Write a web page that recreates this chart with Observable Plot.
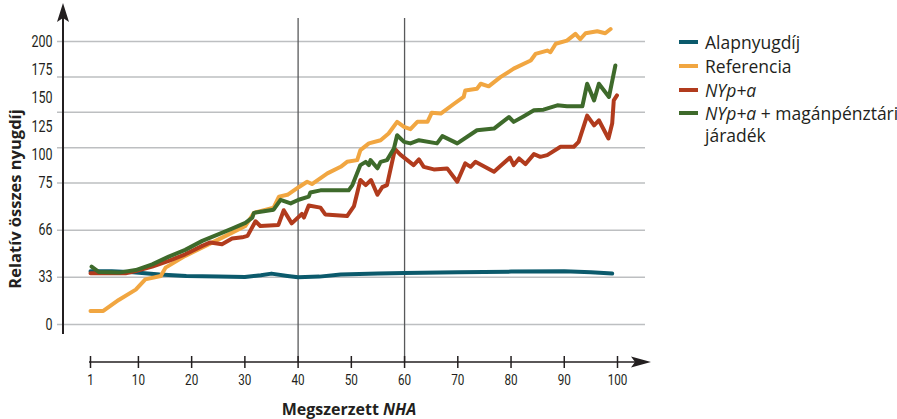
<!DOCTYPE html>
<html><head><meta charset="utf-8">
<script src="https://cdn.jsdelivr.net/npm/d3@7"></script>
<script src="https://cdn.jsdelivr.net/npm/@observablehq/plot@0.6"></script>
<style>
body{margin:0;background:#fff;}
#wrap{position:relative;width:897px;height:419px;overflow:hidden;}
#chart{position:absolute;left:0;top:0;}
#legend{position:absolute;left:679px;top:30px;font-family:"Open Sans","Noto Sans",sans-serif;font-size:17.5px;color:#231f20;}
.item{position:relative;height:24px;line-height:24px;padding-left:26px;white-space:nowrap;}
.item .sw{position:absolute;left:0;top:10px;width:19px;height:4px;}
.item.two{height:48px;line-height:22px;}
.item.two .sw{top:9px;}
</style>
</head><body>
<div id="wrap"><div id="chart"></div><div id="legend"></div></div>
<script>
// ---- data ----
const seriesNames = ["Alapnyugdíj", "Referencia", "NYp+a", "NYp+a + magánpénztári járadék"];
const seriesColors = ["#0b5a6c", "#f1a641", "#b13b1d", "#3e6a2b"];

const alapX = [1,5,9,14,19,25,30,33,35,38,40,44,48,55,60,70,80,90,95,99];
const alapY = [37.2,37.2,36.5,35,34,33.5,33.2,34.5,35.6,34,33,33.5,35,35.6,36,36.5,37,37.2,36.5,35.6];

const refX = [1,3.4,6.3,9.5,11.3,14.2,15.1,18.8,22.6,26.4,30.1,31.7,35.4,36.4,38,40.1,41.7,42.6,45.5,48,49.2,51.1,51.7,53.3,55.5,57,58.6,59.9,61.1,62.4,64.3,65.1,66.8,69.3,71.1,71.4,73.6,74.3,75.8,78,80.5,83.7,84.6,86.8,87.4,88.4,90.5,92.1,93,94,96.2,97.7,98.7];
const refY = [9.5,9.5,17.2,24.4,31.6,33.9,39.8,48,55,62,66.8,69.3,70.3,72.4,72.75,74.2,76.1,74.8,83.5,89.3,93.7,95.2,104,110,112.8,118.7,129,124.5,122.6,129,129,137,136.3,145,151,156.8,158.3,162.7,160.4,168.5,176,183.2,189,192,190.5,198,200.8,206.7,202,207.3,209,207.3,211];

const nypX = [1,7.6,9.5,12.6,15.7,18.8,22,23.5,25.7,27.6,29.5,30.5,32,32.9,36.3,37.3,38.8,40.7,41.1,42,44.2,45.1,49.2,50.5,51.7,52.7,53.7,54.9,55.8,56.7,58.2,59.2,61.7,62.7,63.6,65.5,68,69.9,71.4,72.4,73.3,76.8,78,79.8,80.5,81.5,82.7,84.3,85.5,86.8,89.3,91.8,92.7,94.3,95.6,96.5,98.3,99,99.3,99.9];
const nypY = [35.8,35.8,37.4,40.5,44.5,49.1,55,57.4,56.2,60.2,61,62,67.7,66.8,67,69.8,67.3,69.1,68.4,70.7,70.3,69,68.7,70.6,77.6,74.6,77.6,72.75,74.2,74.6,105,100,90.8,95.8,89.3,87,87.9,76.1,92.3,89.3,93.7,84.9,90,97.5,90.8,96.7,91.7,100.5,98.1,99.6,107,107,111.3,134.5,126,130.4,114.3,127.5,148,152.4];

const magX = [1.2,2.6,6.3,9.5,12.6,15.7,18.8,22,25.1,27.6,30.1,31.4,31.7,35.4,36.7,38.6,40.1,42,42.3,44.2,49.5,50.2,51.7,52.7,53.3,53.6,54.9,55.5,56.7,58,58.6,59.9,61.1,62.7,66.1,67.1,69.9,73.6,76.8,78,79.6,80.5,82.4,84.3,86.1,88.7,90.5,93.4,94.3,95.6,96.5,98.4,99.6];
const magY = [40.5,36.7,36.3,38.1,42.1,47.5,52.2,58.5,63.2,66.3,67.4,68.4,69.3,69.9,71.8,71.1,71.8,72.4,73.2,73.6,73.6,74.6,90.8,93.7,90.8,95.2,88,93.7,95.2,105.5,117.2,111.3,110,112.8,110,116.4,110,121.6,123.1,127.5,133.3,129,134,139.2,139.8,143.6,142.8,142.8,162.7,148,162.7,151,178.8];

const xTicks = [1,10,20,30,40,50,60,70,80,90,100];
const yTicks = [0,33,66,75,100,125,150,175,200];
const gridValues = [0,33,66,75,106.25,137.5,168.75,200];
const markerX = [40,60];
// the reference axis is broken: equal spacing for 0-33-66-75, then 75..200 over three slots
const yBreaks = [0,33,66,75,200];
const ySlots = [0,1,2,3,6];

// ---- build rows ----
const seriesXs = [alapX, refX, nypX, magX];
const seriesYs = [alapY, refY, nypY, magY];
const rows = [];
seriesNames.forEach((name, i) => {
  seriesXs[i].forEach((x, j) => rows.push({series: name, x, y: seriesYs[i][j]}));
});

const slot = d3.scaleLinear(yBreaks, ySlots);
const tickFont = 'Roboto,"Noto Sans",sans-serif';
const ink = "#231f20";

const plot = Plot.plot({
  width: 897, height: 419,
  marginLeft: 57, marginRight: 252, marginTop: 18, marginBottom: 57,
  x: {domain: [1, 100], range: [90, 617]},
  y: {transform: v => slot(v), domain: [0, 6], range: [324, 41]},
  color: {domain: seriesNames, range: seriesColors},
  style: {fontFamily: tickFont, color: ink, background: "transparent", overflow: "visible"},
  marks: [
    Plot.ruleY(gridValues, {stroke: "#bdbfc1", strokeWidth: 1.5}),
    Plot.ruleX(markerX, {stroke: "#58595b", strokeWidth: 1.3}),
    Plot.axisY(yTicks, {tickSize: 0, tickPadding: 5, label: null, fontSize: 16, tickFormat: d => String(d), className: "ylab"}),
    Plot.axisX(xTicks, {tickSize: 12, dy: -6, tickFormat: () => "", label: null, stroke: ink, strokeWidth: 1.5}),
    Plot.axisX(xTicks, {tickSize: 0, tickPadding: 12, label: null, fontSize: 15, tickFormat: d => String(d), className: "xlab"}),
    Plot.line(rows, {x: "x", y: "y", z: "series", stroke: "series", strokeWidth: 4, strokeLinejoin: "round", strokeLinecap: "round"})
  ]
});
document.getElementById("chart").appendChild(plot);

const svg = d3.select(plot);
// condense tick labels (reference uses a condensed face)
svg.selectAll("text").each(function() {
  const t = this.textContent;
  if (/^\d+$/.test(t)) {
    const len = this.getComputedTextLength();
    if (len > 0) {
      d3.select(this).attr("textLength", len * 0.78).attr("lengthAdjust", "spacingAndGlyphs");
    }
  }
});
// axis lines and arrows
svg.append("line").attr("x1", 63).attr("x2", 63).attr("y1", 14).attr("y2", 334).attr("stroke", ink).attr("stroke-width", 2);
svg.append("path").attr("d", "M63,3 L69,22 L63,18 L57,22 Z").attr("fill", ink);
svg.append("line").attr("x1", 89).attr("x2", 640).attr("y1", 362).attr("y2", 362).attr("stroke", ink).attr("stroke-width", 1.5);
svg.append("path").attr("d", "M651,362 L631,356.5 L635,362 L631,367.5 Z").attr("fill", ink);
// axis titles
svg.append("text").attr("transform", "translate(21,199) rotate(-90)").attr("text-anchor", "middle")
  .attr("font-family", '"Open Sans","Noto Sans",sans-serif').attr("font-weight", "bold").attr("font-size", 16.5).attr("fill", ink)
  .text("Relatív összes nyugdíj");
const xt = svg.append("text").attr("x", 349).attr("y", 415).attr("text-anchor", "middle")
  .attr("font-family", '"Open Sans","Noto Sans",sans-serif').attr("font-weight", "bold").attr("font-size", 16).attr("fill", ink);
xt.append("tspan").text("Megszerzett ");
xt.append("tspan").attr("font-style", "italic").text("NHA");

// legend
const legend = d3.select("#legend");
seriesNames.forEach((name, i) => {
  const it = legend.append("div").attr("class", "item" + (i === 3 ? " two" : ""));
  it.append("span").attr("class", "sw").style("background", seriesColors[i]);
  if (i === 2) {
    it.append("span").style("font-style", "italic").text("NYp+a");
  } else if (i === 3) {
    it.append("span").style("font-style", "italic").text("NYp+a");
    it.append("span").html(" + magánpénztári<br>járadék");
  } else {
    it.append("span").text(name);
  }
});
</script>
</body></html>
